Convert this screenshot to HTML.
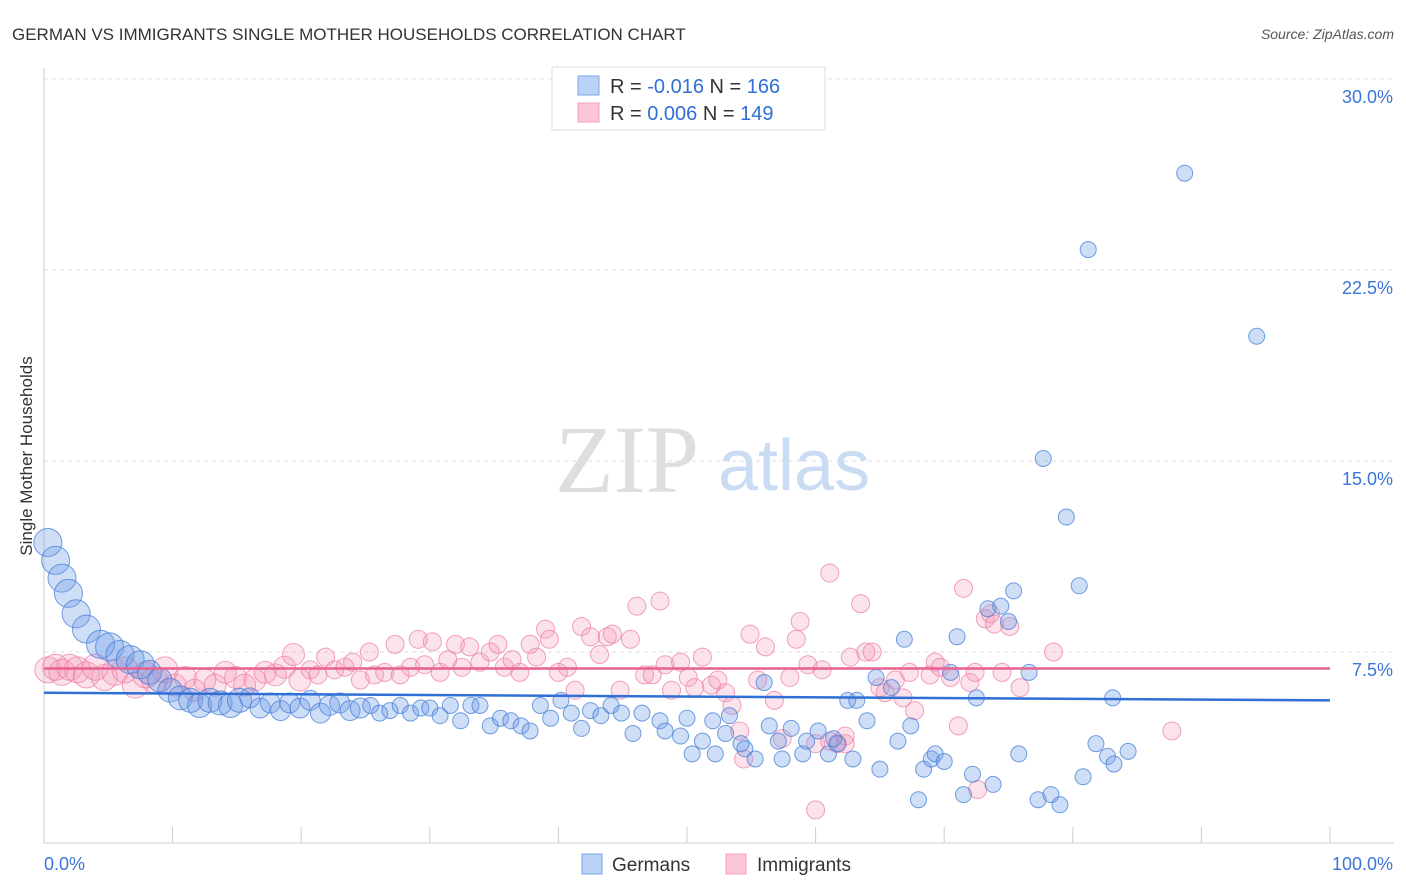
<!DOCTYPE html>
<html><head><meta charset="utf-8"><style>
body{margin:0;background:#fff;font-family:"Liberation Sans",sans-serif;}
svg{display:block}
</style></head><body>
<svg id="chart" width="1406" height="892">
<text x="12" y="40" font-size="17" fill="#333">GERMAN VS IMMIGRANTS SINGLE MOTHER HOUSEHOLDS CORRELATION CHART</text>
<text x="1394" y="39" font-size="14" fill="#555" font-style="italic" text-anchor="end">Source: ZipAtlas.com</text>
<text x="32" y="456" font-size="17" fill="#333" text-anchor="middle" transform="rotate(-90 32 456)">Single Mother Households</text>
<g><text x="555" y="492" font-family="Liberation Serif,serif" font-size="96" fill="#dedede">ZIP</text><text x="718" y="490" font-size="72" fill="#c9dcf3">atlas</text></g>
<g id="grid"></g><g id="pts"></g><g id="lines"></g>
<g>
<rect x="552" y="67" width="273" height="63" fill="#fff" stroke="#ddd"/>
<rect x="578" y="76" width="21" height="19" fill="#b9d2f5" stroke="#7aa6e6"/>
<rect x="578" y="103" width="21" height="19" fill="#fbc6d6" stroke="#f0a0bc"/>
<text x="610" y="93" font-size="20" fill="#333">R = <tspan fill="#2f6fd6">-0.016</tspan>   N = <tspan fill="#2f6fd6">166</tspan></text>
<text x="610" y="120" font-size="20" fill="#333">R = <tspan fill="#2f6fd6"> 0.006</tspan>   N = <tspan fill="#2f6fd6">149</tspan></text>
</g>
<g>
<rect x="582" y="854" width="20" height="20" fill="#b9d2f5" stroke="#7aa6e6"/>
<text x="612" y="871" font-size="19" fill="#333">Germans</text>
<rect x="726" y="854" width="20" height="20" fill="#fbc6d6" stroke="#f0a0bc"/>
<text x="757" y="871" font-size="19" fill="#333">Immigrants</text>
</g>
</svg>
<script>
const yTicks=[7.5,15,22.5,30];
const yTickLabels=["7.5%","15.0%","22.5%","30.0%"];
const xTicks=[0,10,20,30,40,50,60,70,80,90,100];
const blueX=[0.3,0.9,1.4,1.9,2.5,3.3,4.4,5.1,5.9,6.7,7.5,8.2,9.0,9.8,10.6,11.4,12.1,12.9,13.7,14.5,15.2,16.0,16.8,17.6,18.4,19.1,19.9,20.7,21.5,22.2,23.0,23.8,24.6,25.4,26.1,26.9,27.7,28.5,29.3,30.0,30.8,31.6,32.4,33.2,33.9,34.7,35.5,36.3,37.1,37.8,38.6,39.4,40.2,41.0,41.8,42.5,43.3,44.1,44.9,45.8,46.5,47.9,48.3,49.5,50.0,50.4,51.2,52.0,52.2,53.0,53.3,54.2,54.5,55.3,56.0,56.4,57.1,57.4,58.1,59.0,59.3,60.2,61.0,61.4,61.7,62.5,62.9,63.2,64.0,64.7,65.0,65.9,66.4,66.9,67.4,68.0,68.4,69.0,69.3,70.0,70.5,71.0,71.5,72.2,72.5,73.4,73.8,74.4,75.0,75.4,75.8,76.6,77.3,77.7,78.3,79.0,79.5,80.5,80.8,81.2,81.8,82.7,83.2,84.3,83.1,88.7,94.3];
const blueY=[11.8,11.1,10.4,9.8,9.0,8.4,7.8,7.7,7.4,7.2,7.0,6.7,6.4,6.0,5.7,5.6,5.4,5.6,5.5,5.4,5.6,5.7,5.3,5.5,5.2,5.5,5.3,5.6,5.1,5.4,5.5,5.2,5.3,5.4,5.1,5.2,5.4,5.1,5.3,5.3,5.0,5.4,4.8,5.4,5.4,4.6,4.9,4.8,4.6,4.4,5.4,4.9,5.6,5.1,4.5,5.2,5.0,5.4,5.1,4.3,5.1,4.8,4.4,4.2,4.9,3.5,4.0,4.8,3.5,4.3,5.0,3.9,3.7,3.3,6.3,4.6,4.0,3.3,4.5,3.5,4.0,4.4,3.5,4.1,3.9,5.6,3.3,5.6,4.8,6.5,2.9,6.1,4.0,8.0,4.6,1.7,2.9,3.3,3.5,3.2,6.7,8.1,1.9,2.7,5.7,9.2,2.3,9.3,8.7,9.9,3.5,6.7,1.7,15.1,1.9,1.5,12.8,10.1,2.6,23.3,3.9,3.4,3.1,3.6,5.7,26.3,19.9];
const pinkX=[0.3,0.9,1.4,2.0,2.6,3.3,4.0,4.7,5.5,6.3,7.1,7.9,8.6,9.4,10.2,11.0,11.7,12.5,13.3,14.1,14.9,15.6,16.4,17.2,18.0,18.7,19.4,19.9,20.7,21.3,21.9,22.6,23.4,24.0,24.6,25.3,25.7,26.5,27.3,27.7,28.5,29.1,29.6,30.2,30.8,31.4,32.0,32.5,33.1,33.9,34.7,35.3,35.8,36.4,37.0,37.8,38.3,39.0,39.3,40.0,40.7,41.3,41.8,42.5,43.2,43.8,44.2,44.8,45.6,46.1,46.7,47.3,47.9,48.3,48.8,49.5,50.1,50.6,51.2,51.9,52.4,53.0,53.5,54.1,54.4,54.9,55.5,56.1,56.8,57.4,58.0,58.5,58.8,59.4,60.0,60.5,61.1,61.7,62.3,62.7,63.5,63.9,64.4,65.0,65.4,66.2,66.8,67.3,67.7,68.9,69.3,69.7,70.5,71.1,71.5,72.0,72.4,73.2,73.6,73.9,74.5,75.1,75.9,78.5,87.7,60.0,61.1,62.3,72.6];
const pinkY=[6.8,6.9,6.7,6.9,6.8,6.6,6.9,6.5,6.7,6.8,6.2,6.6,6.4,6.8,6.2,6.5,6.0,6.4,6.2,6.7,6.5,6.2,6.4,6.7,6.6,6.9,7.4,6.4,6.8,6.6,7.3,6.8,6.9,7.1,6.4,7.5,6.6,6.7,7.8,6.6,6.9,8.0,7.0,7.9,6.7,7.2,7.8,6.9,7.7,7.1,7.5,7.8,6.9,7.2,6.7,7.8,7.3,8.4,8.0,6.7,6.9,6.0,8.5,8.1,7.4,8.1,8.2,6.0,8.0,9.3,6.6,6.6,9.5,7.0,6.0,7.1,6.5,6.1,7.3,6.2,6.4,5.9,5.4,4.4,3.3,8.2,6.4,7.7,5.6,4.1,6.5,8.0,8.7,7.0,1.3,6.8,10.6,3.9,4.2,7.3,9.4,7.5,7.5,6.1,5.9,6.4,5.7,6.7,5.2,6.6,7.1,6.9,6.5,4.6,10.0,6.3,6.7,8.8,9.0,8.6,6.7,8.5,6.1,7.5,4.4,3.9,4.0,3.9,2.1];
const blueTrend=[5.90,5.60];
const pinkTrend=[6.85,6.85];
const X0=44,X1=1330,Y0=843,Y30=79;
const xs=v=>X0+(X1-X0)*v/100;
const ys=v=>Y0-(Y0-Y30)*v/30;
const NS="http://www.w3.org/2000/svg";
function mk(tag,attrs,parent){const e=document.createElementNS(NS,tag);for(const k in attrs)e.setAttribute(k,attrs[k]);parent.appendChild(e);return e;}
const grid=document.getElementById('grid');
yTicks.forEach((t,i)=>{
 const l=mk('line',{x1:X0,x2:1394,y1:ys(t),y2:ys(t),stroke:'#ddd','stroke-dasharray':'4,4'},grid);
 
 
 const tx=mk('text',{x:1393,y:ys(t)+24,'font-size':18,fill:'#3a75d8','text-anchor':'end'},grid);
 tx.textContent=yTickLabels[i];
 
 
});
const ax=mk('line',{x1:X0,x2:1394,y1:Y0,y2:Y0,stroke:'#ccc'},grid);


const ay=mk('line',{x1:X0,x2:X0,y1:68,y2:Y0,stroke:'#ccc'},grid);


xTicks.forEach(t=>{
 const l=mk('line',{x1:xs(t),x2:xs(t),y1:Y0,y2:Y0-16,stroke:'#ccc'},grid);
 
 
});
const xl0=mk('text',{x:44,y:870,'font-size':18,fill:'#3a75d8'},grid);xl0.textContent='0.0%';


const xl1=mk('text',{x:1393,y:870,'font-size':18,fill:'#3a75d8','text-anchor':'end'},grid);xl1.textContent='100.0%';


const pts=document.getElementById('pts');
pinkX.forEach((x,i)=>{
 const r=x<10?13:x<20?11:9;
 const c=mk('circle',{cx:xs(x),cy:ys(pinkY[i]),r:r,fill:'rgba(243,150,182,0.28)',stroke:'rgba(236,130,168,0.75)','stroke-width':1},pts);
 
 
});
blueX.forEach((x,i)=>{
 const r=x<8?14:x<16?12:x<25?10:8;
 const c=mk('circle',{cx:xs(x),cy:ys(blueY[i]),r:r,fill:'rgba(110,155,230,0.33)',stroke:'rgba(70,125,215,0.75)','stroke-width':1},pts);
 
 
});
const lines=document.getElementById('lines');
const lb=mk('line',{x1:xs(0),x2:xs(100),y1:ys(blueTrend[0]),y2:ys(blueTrend[1]),stroke:'#2f6fd6','stroke-width':2.5},lines);


const lp=mk('line',{x1:xs(0),x2:xs(100),y1:ys(pinkTrend[0]),y2:ys(pinkTrend[1]),stroke:'#e8608f','stroke-width':2.5},lines);


</script>
</body></html>
